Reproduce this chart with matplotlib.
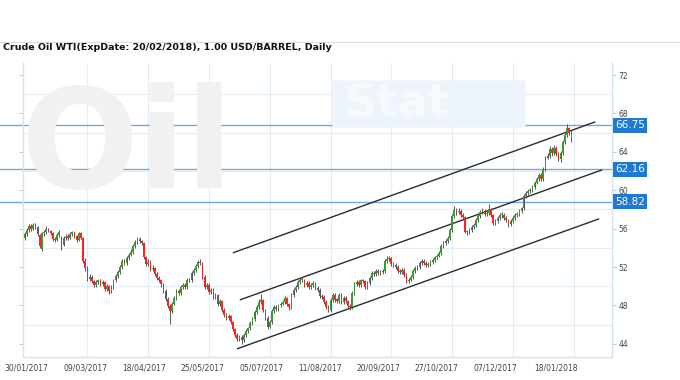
import numpy as np
import matplotlib
matplotlib.use('Agg')
import matplotlib.pyplot as plt
from matplotlib.transforms import blended_transform_factory
from matplotlib.patches import FancyBboxPatch
from matplotlib.lines import Line2D

# daily candles of the Feb-2018 WTI contract (bar index = trading day)
opens = [
    55.0, 55.4, 55.9, 56.3, 56.0, 56.4, 56.2, 55.3, 53.9, 55.5,
    55.6, 56.0, 55.8, 55.5, 54.9, 54.8, 55.3, 55.0, 54.3, 55.0,
    55.2, 55.0, 55.4, 55.6, 55.2, 54.8, 55.5, 55.0, 52.6, 51.9,
    50.8, 51.0, 50.5, 50.1, 50.4, 50.6, 50.2, 50.4, 49.7, 50.0,
    49.5, 49.9, 50.6, 51.1, 51.5, 52.0, 52.6, 52.4, 52.9, 53.3,
    53.6, 54.2, 54.6, 54.9, 54.7, 54.5, 53.0, 52.3, 52.5, 51.8,
    51.9, 51.3, 50.9, 50.6, 50.2, 49.5, 48.7, 47.9, 47.4, 48.2,
    48.8, 49.5, 49.3, 49.9, 50.1, 49.9, 50.7, 50.6, 51.4, 51.7,
    52.1, 52.5, 52.4, 51.0, 49.9, 50.1, 49.4, 49.6, 48.9, 49.1,
    48.1, 48.5, 47.5, 47.0, 46.7, 46.9, 46.3, 45.5, 44.9, 44.5,
    44.7, 44.4, 44.9, 45.3, 45.6, 46.2, 46.6, 47.3, 47.8, 48.4,
    48.6, 47.5, 46.7, 45.8, 46.3, 47.4, 47.8, 47.6, 48.0, 48.2,
    48.4, 48.8, 48.1, 47.8, 49.1, 49.6, 49.9, 50.4, 50.6, 50.7,
    50.1, 50.3, 49.9, 50.1, 50.3, 49.8, 49.6, 49.0, 48.9, 48.4,
    47.8, 47.5, 48.6, 49.1, 48.6, 48.5, 49.1, 48.4, 48.8, 48.5,
    47.9, 47.8, 49.3, 50.2, 50.4, 50.1, 50.6, 50.5, 49.9, 50.3,
    50.9, 51.4, 51.3, 51.6, 51.4, 51.5, 51.6, 52.6, 52.8, 52.9,
    52.3, 52.2, 52.0, 51.6, 51.5, 51.7, 51.2, 50.5, 50.7, 51.0,
    51.6, 51.9, 52.0, 52.4, 52.6, 52.4, 52.2, 52.3, 52.5, 52.7,
    53.0, 53.2, 53.5, 54.2, 54.5, 54.7, 55.0, 55.9, 57.3, 57.9,
    57.7, 57.8, 57.4, 57.2, 55.7, 55.6, 55.9, 56.2, 56.4, 56.9,
    57.3, 57.7, 57.8, 57.5, 57.6, 58.0, 57.4, 56.6, 56.8, 57.1,
    57.4, 57.4, 57.1, 56.9, 56.5, 56.8, 57.1, 57.4, 57.5, 57.8,
    58.1, 59.4, 59.7, 59.9, 60.0, 60.3, 60.8, 61.2, 61.6, 61.2,
    62.2, 63.4, 63.6, 64.3, 63.9, 64.4, 63.8, 63.2, 63.9, 65.0,
    65.7, 66.5, 65.4,
]
highs = [
    55.6, 56.1, 56.5, 56.5, 56.6, 56.6, 56.3, 55.4, 55.7, 55.9,
    56.3, 56.1, 55.9, 55.6, 55.1, 55.5, 55.9, 55.2, 55.2, 55.4,
    55.4, 55.6, 55.8, 55.7, 55.3, 55.7, 55.6, 55.1, 52.9, 52.1,
    51.3, 51.2, 50.7, 50.6, 50.8, 50.8, 50.6, 50.5, 50.2, 50.1,
    50.1, 50.8, 51.3, 51.7, 52.2, 52.8, 52.8, 53.1, 53.5, 53.9,
    54.4, 54.8, 55.1, 55.1, 54.8, 54.6, 53.2, 52.8, 52.7, 52.2,
    52.0, 51.5, 51.1, 50.8, 50.3, 49.7, 48.9, 48.1, 48.4, 49.0,
    49.7, 49.7, 50.1, 50.3, 50.3, 50.9, 50.9, 51.6, 51.9, 52.3,
    52.7, 52.8, 52.5, 51.2, 50.3, 50.3, 49.8, 49.8, 49.3, 49.2,
    48.7, 48.6, 47.7, 47.2, 47.1, 47.0, 46.4, 45.7, 45.1, 44.9,
    44.9, 45.1, 45.5, 45.8, 46.4, 46.8, 47.5, 48.0, 48.7, 49.2,
    48.7, 47.6, 46.9, 46.5, 47.6, 48.0, 48.0, 48.2, 48.4, 48.6,
    49.0, 48.9, 48.3, 49.3, 49.8, 50.1, 50.6, 50.9, 51.0, 50.8,
    50.5, 50.5, 50.3, 50.5, 50.4, 50.0, 49.8, 49.2, 49.1, 48.6,
    48.0, 48.8, 49.3, 49.3, 48.8, 49.3, 49.3, 49.0, 49.0, 48.6,
    48.1, 49.5, 50.4, 50.6, 50.6, 50.8, 50.8, 50.6, 50.5, 51.1,
    51.6, 51.6, 51.8, 51.8, 51.7, 51.8, 52.8, 53.1, 53.2, 53.0,
    52.5, 52.4, 52.2, 51.8, 51.9, 51.9, 51.4, 50.9, 51.2, 51.8,
    52.1, 52.2, 52.6, 52.8, 52.8, 52.6, 52.5, 52.7, 52.9, 53.2,
    53.4, 53.7, 54.4, 54.7, 54.9, 55.2, 56.1, 57.5, 58.4, 58.1,
    58.2, 58.0, 57.6, 57.3, 55.9, 56.1, 56.4, 56.6, 57.1, 57.5,
    57.9, 58.1, 58.0, 57.8, 58.6, 58.1, 57.5, 57.0, 57.3, 57.6,
    57.7, 57.6, 57.3, 57.0, 57.0, 57.3, 57.6, 57.7, 58.0, 58.3,
    59.6, 59.9, 60.1, 60.2, 60.5, 61.0, 61.4, 61.8, 61.8, 62.4,
    63.6, 63.9, 64.6, 64.5, 64.7, 64.6, 64.0, 64.1, 65.2, 66.0,
    66.9, 66.6, 66.3,
]
lows = [
    54.8, 55.2, 55.7, 55.8, 55.9, 56.0, 55.2, 54.0, 53.7, 55.2,
    55.4, 55.6, 55.3, 54.7, 54.6, 54.7, 55.1, 53.8, 54.2, 54.8,
    54.8, 54.9, 55.2, 55.0, 54.6, 54.7, 54.9, 52.4, 51.6, 50.5,
    50.5, 50.3, 49.9, 49.9, 50.2, 50.0, 50.0, 49.5, 49.5, 49.2,
    49.3, 49.7, 50.4, 50.9, 51.3, 51.8, 52.2, 52.2, 52.7, 53.1,
    53.4, 54.0, 54.4, 54.5, 54.3, 52.8, 52.1, 52.1, 51.6, 51.6,
    51.1, 50.7, 50.4, 49.9, 49.3, 48.5, 47.7, 46.1, 47.2, 48.0,
    48.6, 49.1, 49.1, 49.7, 49.7, 49.7, 50.4, 50.4, 51.2, 51.5,
    51.9, 52.2, 50.8, 49.7, 49.7, 49.2, 49.2, 48.7, 48.7, 47.9,
    47.9, 47.3, 46.8, 46.5, 46.5, 46.1, 45.3, 44.7, 44.3, 44.3,
    44.0, 44.2, 44.7, 45.1, 45.4, 46.0, 46.4, 47.1, 47.6, 48.2,
    47.3, 46.5, 45.5, 45.6, 46.1, 47.2, 47.4, 47.4, 47.8, 48.0,
    48.2, 47.9, 47.5, 47.6, 48.9, 49.4, 49.7, 50.2, 50.4, 49.9,
    49.9, 49.7, 49.7, 49.9, 49.6, 49.4, 48.8, 48.7, 48.2, 47.6,
    47.3, 47.3, 48.4, 48.4, 48.3, 48.3, 48.2, 48.2, 48.3, 47.7,
    47.5, 47.6, 49.1, 50.0, 49.9, 49.9, 50.3, 49.7, 49.7, 50.1,
    50.7, 51.1, 51.1, 51.2, 51.2, 51.3, 51.4, 52.4, 52.6, 52.1,
    52.0, 51.8, 51.4, 51.3, 51.3, 51.0, 50.3, 50.3, 50.5, 50.8,
    51.4, 51.7, 51.8, 52.2, 52.2, 52.0, 52.0, 52.1, 52.3, 52.5,
    52.8, 53.0, 53.3, 54.0, 54.3, 54.5, 54.8, 55.7, 57.1, 57.4,
    57.5, 57.2, 56.9, 55.5, 55.3, 55.4, 55.7, 56.0, 56.2, 56.7,
    57.1, 57.5, 57.3, 57.3, 57.4, 57.2, 56.4, 56.4, 56.6, 56.9,
    57.1, 56.9, 56.7, 56.2, 56.3, 56.6, 56.9, 57.2, 57.3, 57.6,
    57.9, 59.2, 59.5, 59.7, 59.8, 60.1, 60.6, 61.0, 61.0, 61.0,
    62.0, 63.2, 63.4, 63.6, 63.7, 63.6, 63.0, 62.9, 63.7, 64.8,
    65.5, 65.8, 65.0,
]
closes = [
    55.4, 55.9, 56.3, 56.0, 56.4, 56.2, 55.4, 54.2, 55.5, 55.6,
    56.0, 55.8, 55.5, 54.9, 54.8, 55.3, 55.7, 54.3, 55.0, 55.1,
    55.0, 55.4, 55.6, 55.2, 54.8, 55.5, 55.0, 52.6, 51.9, 50.8,
    51.0, 50.5, 50.1, 50.4, 50.6, 50.2, 50.4, 49.7, 50.0, 49.5,
    49.9, 50.6, 51.1, 51.5, 52.0, 52.6, 52.4, 52.9, 53.3, 53.6,
    54.2, 54.6, 54.9, 54.7, 54.5, 53.0, 52.3, 52.5, 51.8, 51.9,
    51.3, 50.9, 50.6, 50.2, 49.5, 48.7, 47.9, 47.4, 48.2, 48.8,
    49.5, 49.3, 49.9, 50.1, 49.9, 50.7, 50.6, 51.4, 51.7, 52.1,
    52.5, 52.4, 51.0, 49.9, 50.1, 49.4, 49.6, 48.9, 49.1, 48.1,
    48.5, 47.5, 47.0, 46.7, 46.9, 46.3, 45.5, 44.9, 44.5, 44.7,
    44.4, 44.9, 45.3, 45.6, 46.2, 46.6, 47.3, 47.8, 48.4, 48.6,
    47.5, 46.7, 45.8, 46.3, 47.4, 47.8, 47.6, 48.0, 48.2, 48.4,
    48.8, 48.1, 47.8, 49.1, 49.6, 49.9, 50.4, 50.6, 50.7, 50.1,
    50.3, 49.9, 50.1, 50.3, 49.8, 49.6, 49.0, 48.9, 48.4, 47.8,
    47.5, 48.6, 49.1, 48.6, 48.5, 49.1, 48.4, 48.8, 48.5, 47.9,
    47.8, 49.3, 50.2, 50.4, 50.1, 50.6, 50.5, 49.9, 50.3, 50.9,
    51.4, 51.3, 51.6, 51.4, 51.5, 51.6, 52.6, 52.8, 52.9, 52.3,
    52.2, 52.0, 51.6, 51.5, 51.7, 51.2, 50.5, 50.7, 51.0, 51.6,
    51.9, 52.0, 52.4, 52.6, 52.4, 52.2, 52.3, 52.5, 52.7, 53.0,
    53.2, 53.5, 54.2, 54.5, 54.7, 55.0, 55.9, 57.3, 57.9, 57.7,
    57.8, 57.4, 57.2, 55.7, 55.6, 55.9, 56.2, 56.4, 56.9, 57.3,
    57.7, 57.8, 57.5, 57.6, 58.0, 57.4, 56.6, 56.8, 57.1, 57.4,
    57.4, 57.1, 56.9, 56.5, 56.8, 57.1, 57.4, 57.5, 57.8, 58.1,
    59.4, 59.7, 59.9, 60.0, 60.3, 60.8, 61.2, 61.6, 61.2, 62.2,
    63.4, 63.6, 64.3, 63.9, 64.4, 63.8, 63.2, 63.9, 65.0, 65.7,
    66.5, 66.0, 66.1,
]

# support / resistance levels and the drawn trend channel (bar, price) pairs
levels = [66.75, 62.16, 58.82]
channel_upper = [(96.3, 53.5), (262.7, 67.1)]
channel_middle = [(99.5, 48.6), (265.9, 62.1)]
channel_lower = [(98.2, 43.5), (264.5, 57.0)]

date_labels = ['30/01/2017', '09/03/2017', '18/04/2017', '25/05/2017', '05/07/2017',
               '11/08/2017', '20/09/2017', '27/10/2017', '07/12/2017', '18/01/2018']
date_label_bars = [1, 28, 55, 82, 109, 136, 163, 190, 217, 245]
grid_bars = [29, 57, 85, 113, 141, 169, 197, 225, 253]
price_ticks = [44, 48, 52, 56, 60, 64, 68, 72]
grid_prices = [46, 50, 54, 58, 62, 66, 70]

W, H = 680, 380
fig = plt.figure(figsize=(W / 100, H / 100), dpi=100)
ax = fig.add_axes([23 / W, (H - 357) / H, (612 - 23) / W, (357 - 63) / H])

# faint watermark
fig.text(20 / W, 1 - 150 / H, 'Oil', fontsize=100, fontweight='bold', color='#f1f1f1',
         ha='left', va='center', zorder=0)
fig.patches.append(FancyBboxPatch((335 / W, 1 - 126 / H), 188 / W, 44 / H,
                                  boxstyle='round,pad=0.004', transform=fig.transFigure,
                                  fc='#edf4fb', ec='none', zorder=0))
fig.text(345 / W, 1 - 104 / H, 'Stat', fontsize=32, fontweight='bold', color='#f7fafd',
         ha='left', va='center', zorder=0)
ax.patch.set_alpha(0)

# title and top rule
fig.text(3 / W, 1 - 48 / H, 'Crude Oil WTI(ExpDate: 20/02/2018), 1.00 USD/BARREL, Daily',
         fontsize=6.8, fontweight='bold', color='#111111', ha='left', va='center')
fig.add_artist(Line2D([0, 1], [1 - 41.5 / H] * 2, transform=fig.transFigure,
                      color='#dddddd', lw=0.8))

# grid
for p in grid_prices:
    ax.axhline(p, color='#e2edf7', lw=0.8, zorder=0.5)
for b in grid_bars:
    ax.axvline(b, color='#e2edf7', lw=0.8, zorder=0.5)

# candles
o = np.array(opens)
c = np.array(closes)
idx = np.arange(len(c))
body_colors = np.where(c >= o, '#3a9a32', '#ff2222')
ax.vlines(idx, lows, highs, color='#555555', lw=0.7, zorder=3)
ax.bar(idx, np.maximum(np.abs(c - o), 0.12), bottom=np.minimum(o, c), width=0.75,
       color=body_colors, lw=0, zorder=4)

# channel
for seg in (channel_upper, channel_middle, channel_lower):
    xs, ys = zip(*seg)
    ax.plot(xs, ys, color='#2b2b2b', lw=1.0, zorder=2)

# level lines with price tags
trans = blended_transform_factory(ax.transAxes, ax.transData)
for lvl in levels:
    ax.plot([-23 / 589, 1], [lvl, lvl], transform=trans, clip_on=False,
            color='#72a9dc', lw=1.0, zorder=1)
    ax.text(1.0055, lvl, f'{lvl:.2f}', transform=trans, ha='left', va='center',
            fontsize=7.5, color='white', zorder=5,
            bbox=dict(boxstyle='square,pad=0.22', fc='#1f78d1', ec='none'))

ax.set_xlim(-0.7, 270.7)
ax.set_ylim(42.63, 73.25)

ax.set_yticks(price_ticks)
ax.tick_params(axis='y', left=True, right=True, labelleft=False, labelright=True,
               length=3, width=0.6, color='#a9c4dd', labelsize=5.5, labelcolor='#444444', pad=1.5)
ax.set_xticks(date_label_bars)
ax.set_xticklabels(date_labels)
ax.tick_params(axis='x', length=0, labelsize=5.5, labelcolor='#444444', pad=5)

for side in ('left', 'bottom', 'right'):
    ax.spines[side].set_color('#d3e4f3')
    ax.spines[side].set_linewidth(1.0)
ax.spines['top'].set_visible(False)

fig.savefig('out.png', dpi=100)
